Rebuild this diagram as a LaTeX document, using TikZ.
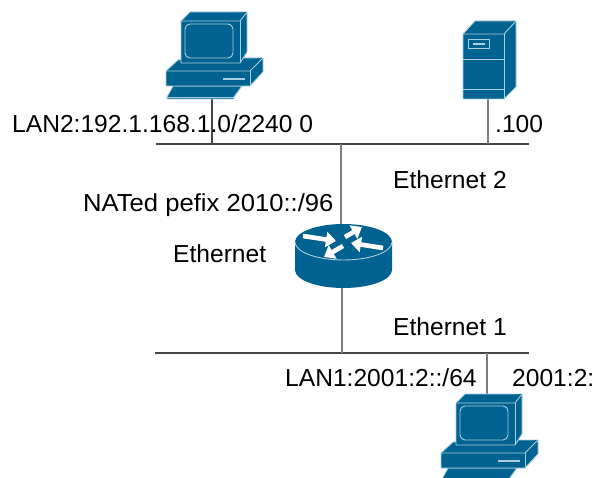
\documentclass[tikz,border=0pt]{standalone}
\usepackage{fontspec}
\setmainfont{Liberation Sans}
\usetikzlibrary{arrows.meta}
\definecolor{devblue}{RGB}{0,98,145}
\definecolor{devline}{RGB}{170,208,224}
\definecolor{wire}{RGB}{70,70,70}
\definecolor{wiregray}{RGB}{125,125,125}
\tikzset{
	device/.style = {fill=devblue, draw=devline, line width=0.9pt, line join=round},
	wireline/.style = {color=wire, line width=1.2pt},
	dropline/.style = {color=wiregray, line width=1.9pt},
	netlabel/.style = {anchor=base west, inner sep=0pt, font=\fontsize{24.6}{28}\selectfont},
	flow/.style = {white, line width=4.6pt, -{Triangle[length=10pt,width=15pt]}}
}
\newcommand{\aaX}{275}
\newcommand{\aaY}{382}
\newcommand{\drawpc}[2]{
	\begin{scope}[shift={(#1,#2)}]
		\draw[device] (173,86) -- (242,86) -- (234,97) -- (234,99) -- (167,99) -- (167,97) -- cycle;
		\draw[device] (167,97) -- (234,97);
		\draw[device] (166,71) -- (178,60) -- (240,58) -- (263,58) -- (263,72) -- (250,86) -- (166,86) -- cycle;
		\draw[device] (166,71) -- (250,71) -- (263,58);
		\draw[device] (250,71) -- (250,86);
		\draw[devline, line width=1.2pt] (223,79) -- (245,79);
		\draw[device] (181,21) -- (190,12) -- (247,12) -- (247,52) -- (240,63) -- (181,63) -- cycle;
		\draw[device] (181,21) -- (240,21) -- (247,12);
		\draw[device] (240,21) -- (240,63);
		\draw[devline, line width=0.9pt, rounded corners=5pt] (185,24) rectangle (233,58);
	\end{scope}
}
\begin{document}
\begin{tikzpicture}[x=1pt, y=-1pt]
	\useasboundingbox (0,0) rectangle (597,478);
	% Wire ends
	\coordinate (topleft) at (156,144);
	\coordinate (topright) at (529,144);
	\coordinate (botleft) at (155,353);
	\coordinate (botright) at (529,353);
	\coordinate (pctop) at (212,95);
	\coordinate (pctopbus) at (212,144);
	\coordinate (servertop) at (488,95);
	\coordinate (servertopbus) at (488,144);
	\coordinate (routertop) at (341,230);
	\coordinate (routertopbus) at (341,144);
	\coordinate (routerbot) at (342,285);
	\coordinate (routerbotbus) at (342,353);
	\coordinate (pcbotbus) at (487,353);
	\coordinate (pcbot) at (487,398);
	\draw[wireline] (topleft) -- (topright);
	\draw[wireline] (botleft) -- (botright);
	\draw[wireline] (pctop) -- (pctopbus);
	\draw[dropline] (servertop) -- (servertopbus);
	\draw[dropline] (routertop) -- (routertopbus);
	\draw[dropline] (routerbot) -- (routerbotbus);
	\draw[dropline] (pcbotbus) -- (pcbot);
	% PCs
	\drawpc{0}{0}
	\drawpc{\aaX}{\aaY}
	% Server
	\draw[device] (463,34) -- (475,21) -- (516,21) -- (516,87) -- (504,99) -- (463,99) -- cycle;
	\draw[device] (463,34) -- (504,34) -- (516,21);
	\draw[device] (504,34) -- (504,99);
	\draw[devline, line width=0.9pt] (463,59) -- (504,59);
	\draw[devline, line width=0.9pt] (463,89) -- (504,89);
	\draw[devline, line width=0.9pt] (468,39) rectangle (489,48);
	\draw[devline, line width=1.2pt] (473,44) -- (485,44);
	% Router
	\fill[devblue] (295,242) -- (295,270) arc (180:0:48.5 and 18) -- (392,242) arc (0:-180:48.5 and 18) -- cycle;
	\draw[devline, line width=0.9pt] (295,242) arc (180:0:48.5 and 18);
	\draw[flow] (303,236) -- (336,241);
	\draw[flow] (345,237) -- (362,227);
	\draw[flow] (383,248) -- (351,243);
	\draw[flow] (343,246) -- (324,257);
	% Labels
	\node[netlabel] (lantwo) at (12,133) {LAN2:192.1.168.1.0/2240 0};
	\node[netlabel] (serveraddr) at (495,133) {.100};
	\node[netlabel] (ethtwo) at (393,189) {Ethernet 2};
	\node[netlabel, xscale=1.042] (natpfx) at (83,212) {NATed pefix 2010::/96};
	\node[netlabel] (ethzero) at (173,263) {Ethernet};
	\node[netlabel] (ethone) at (393,335) {Ethernet 1};
	\node[netlabel] (lanone) at (285,386) {LAN1:2001:2::/64};
	\node[netlabel] (pcaddr) at (512,386) {2001:2:};
\end{tikzpicture}
\end{document}
